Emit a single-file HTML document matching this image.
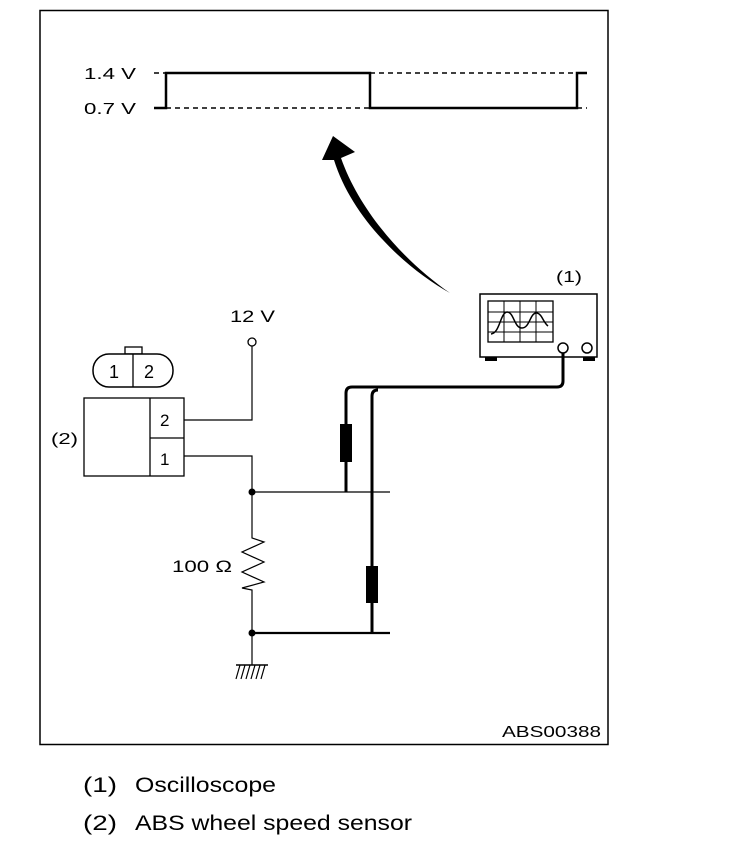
<!DOCTYPE html>
<html><head><style>
body{margin:0;background:#fff;}
svg text{font-family:"Liberation Sans",sans-serif;fill:#000;}
</style></head><body>
<svg width="736" height="856" viewBox="0 0 736 856" xmlns="http://www.w3.org/2000/svg">
<rect x="40" y="10.5" width="568" height="734" fill="none" stroke="#000" stroke-width="1.5"/>
<!-- waveform -->
<text x="84" y="79" font-size="16" textLength="52" lengthAdjust="spacingAndGlyphs">1.4 V</text>
<text x="84" y="114" font-size="16" textLength="52" lengthAdjust="spacingAndGlyphs">0.7 V</text>
<g stroke="#000" stroke-width="1.5" stroke-dasharray="5,4" fill="none">
<line x1="154" y1="73" x2="166" y2="73"/>
<line x1="166" y1="108" x2="370" y2="108"/>
<line x1="370" y1="73" x2="577" y2="73"/>
<line x1="577" y1="108" x2="587" y2="108"/>
</g>
<polyline points="154,108 166,108 166,73 370,73 370,108 577,108 577,73 587,73" fill="none" stroke="#000" stroke-width="2.5"/>
<!-- arrow -->
<path d="M450,293 C405,262 360,212 341,158 L355,152 L333,136 L322,160 L334,160 C352,218 405,268 450,293 Z" fill="#000"/>
<!-- scope -->
<text x="556" y="282" font-size="16" textLength="26" lengthAdjust="spacingAndGlyphs">(1)</text>
<rect x="480" y="294" width="117" height="63" fill="#fff" stroke="#000" stroke-width="1.5"/>
<rect x="488" y="301" width="65" height="41" fill="none" stroke="#000" stroke-width="1.3"/>
<g stroke="#000" stroke-width="1">
<line x1="504" y1="301" x2="504" y2="342"/><line x1="520" y1="301" x2="520" y2="342"/><line x1="536" y1="301" x2="536" y2="342"/>
<line x1="488" y1="312" x2="553" y2="312"/><line x1="488" y1="322" x2="553" y2="322"/><line x1="488" y1="332" x2="553" y2="332"/>
</g>
<path d="M491,334 C500,333 500,313 507,312 C514,312 514,328 522,328 C530,328 530,312 537,313 C542,314 543,322 548,326" fill="none" stroke="#000" stroke-width="1.5"/>
<rect x="485" y="357" width="12" height="4" fill="#000"/><rect x="583" y="357" width="12" height="4" fill="#000"/>
<circle cx="563" cy="348" r="5" fill="#fff" stroke="#000" stroke-width="1.5"/>
<circle cx="587" cy="348" r="5" fill="#fff" stroke="#000" stroke-width="1.5"/>
<!-- cables -->
<path d="M563,353 L563,381 Q563,387 557,387 L352,387 Q346,387 346,393 L346,492" fill="none" stroke="#000" stroke-width="3"/>
<path d="M378,390 Q372,390 372,396 L372,633" fill="none" stroke="#000" stroke-width="3"/>
<rect x="340" y="424" width="12" height="38" fill="#000"/>
<rect x="366" y="566" width="12" height="37" fill="#000"/>
<!-- connector -->
<rect x="125" y="347" width="17" height="7" fill="#fff" stroke="#000" stroke-width="1.3"/>
<rect x="93" y="354" width="80" height="33" rx="16" fill="#fff" stroke="#000" stroke-width="1.5"/>
<line x1="133" y1="354" x2="133" y2="387" stroke="#000" stroke-width="1.3"/>
<text x="109" y="378" font-size="18">1</text><text x="144" y="378" font-size="18">2</text>
<!-- sensor -->
<text x="51" y="444" font-size="16" textLength="27" lengthAdjust="spacingAndGlyphs">(2)</text>
<rect x="84" y="398" width="100" height="78" fill="#fff" stroke="#000" stroke-width="1.3"/>
<line x1="150" y1="398" x2="150" y2="476" stroke="#000" stroke-width="1.3"/>
<line x1="150" y1="438" x2="184" y2="438" stroke="#000" stroke-width="1.3"/>
<text x="160" y="426" font-size="17">2</text><text x="160" y="465" font-size="17">1</text>
<!-- wiring -->
<text x="230" y="322" font-size="17" textLength="45" lengthAdjust="spacingAndGlyphs">12 V</text>
<circle cx="252" cy="342" r="4" fill="#fff" stroke="#000" stroke-width="1.3"/>
<g fill="none" stroke="#000" stroke-width="1.2">
<polyline points="184,420 252,420 252,346"/>
<polyline points="184,456 252,456 252,538 264,542 242,552 264,562 242,572 264,582 242,588 252,590 252,665"/>
<line x1="252" y1="492" x2="390" y2="492"/>
</g>
<line x1="252" y1="633" x2="390" y2="633" stroke="#000" stroke-width="2.2"/>
<circle cx="252" cy="492" r="3.5" fill="#000"/><circle cx="252" cy="633" r="3.5" fill="#000"/>
<line x1="236" y1="665" x2="268" y2="665" stroke="#000" stroke-width="1.5"/>
<g stroke="#000" stroke-width="1.2">
<line x1="240" y1="665" x2="236" y2="679"/><line x1="245" y1="665" x2="241" y2="679"/><line x1="250" y1="665" x2="246" y2="679"/><line x1="255" y1="665" x2="251" y2="679"/><line x1="260" y1="665" x2="256" y2="679"/><line x1="265" y1="665" x2="261" y2="679"/>
</g>
<text x="172" y="572" font-size="17" textLength="60" lengthAdjust="spacingAndGlyphs">100 Ω</text>
<text x="502" y="737" font-size="16" textLength="99" lengthAdjust="spacingAndGlyphs">ABS00388</text>
<!-- legend -->
<text x="83" y="792" font-size="21" textLength="34" lengthAdjust="spacingAndGlyphs">(1)</text><text x="135" y="792" font-size="21" textLength="141" lengthAdjust="spacingAndGlyphs">Oscilloscope</text>
<text x="83" y="830" font-size="21" textLength="34" lengthAdjust="spacingAndGlyphs">(2)</text><text x="135" y="830" font-size="21" textLength="277" lengthAdjust="spacingAndGlyphs">ABS wheel speed sensor</text>
</svg>
</body></html>
